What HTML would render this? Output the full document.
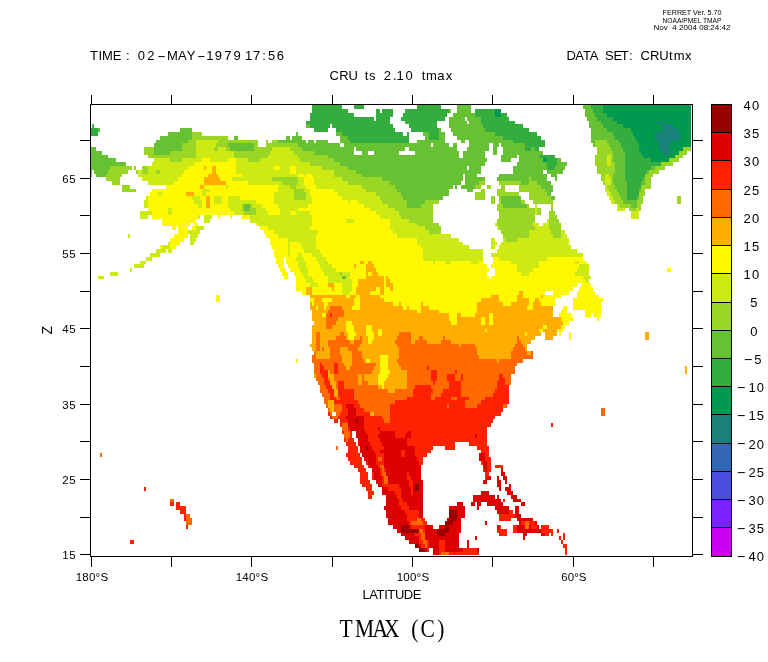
<!DOCTYPE html>
<html lang="en"><head><meta charset="utf-8"><title>TMAX (C)</title>
<style>
html,body{margin:0;padding:0;background:#fff;}
body{width:768px;height:662px;overflow:hidden;}
svg{display:block;}
text{font-family:"Liberation Sans",sans-serif;fill:#000;}
.s{font-family:"Liberation Serif",serif;}
</style></head><body>
<svg width="768" height="662" viewBox="0 0 768 662">
<rect width="768" height="662" fill="#fff"/>
<g shape-rendering="crispEdges" stroke="none">
<path fill="#1a807a" d="M657 121H663V124H657ZM663 124H673V128H663ZM663 128H677V132H663ZM655 132H681V136H655ZM655 136H681V140H655ZM659 140H673V143H659ZM659 143H669V147H659ZM659 147H669V151H659ZM663 151H669V155H663Z"/>
<path fill="#009950" d="M603 105H691V109H603ZM495 109H501V113H495ZM603 109H691V113H603ZM495 113H501V117H495ZM607 113H691V117H607ZM613 117H691V121H613ZM617 121H657V124H617ZM663 121H691V124H663ZM623 124H663V128H623ZM673 124H691V128H673ZM631 128H663V132H631ZM677 128H691V132H677ZM633 132H655V136H633ZM681 132H691V136H681ZM635 136H655V140H635ZM681 136H691V140H681ZM637 140H659V143H637ZM673 140H691V143H673ZM639 143H659V147H639ZM669 143H691V147H669ZM639 147H659V151H639ZM669 147H683V151H669ZM641 151H663V155H641ZM669 151H679V155H669ZM643 155H675V158H643ZM543 158H547V162H543ZM651 158H669V162H651Z"/>
<path fill="#33ad3d" d="M312 105H342V109H312ZM354 105H364V109H354ZM417 105H441V109H417ZM591 105H603V109H591ZM312 109H348V113H312ZM376 109H380V113H376ZM382 109H393V113H382ZM405 109H449V113H405ZM475 109H495V113H475ZM593 109H603V113H593ZM310 113H354V117H310ZM376 113H393V117H376ZM403 113H447V117H403ZM475 113H495V117H475ZM501 113H507V117H501ZM595 113H607V117H595ZM310 117H374V121H310ZM376 117H390V121H376ZM401 117H445V121H401ZM481 117H509V121H481ZM597 117H613V121H597ZM306 121H390V124H306ZM405 121H437V124H405ZM481 121H515V124H481ZM601 121H617V124H601ZM92 124H94V128H92ZM310 124H330V128H310ZM332 124H393V128H332ZM409 124H437V128H409ZM483 124H523V128H483ZM603 124H623V128H603ZM91 128H98V132H91ZM314 128H328V132H314ZM336 128H395V132H336ZM411 128H439V132H411ZM485 128H529V132H485ZM607 128H631V132H607ZM91 132H98V136H91ZM342 132H403V136H342ZM407 132H409V136H407ZM429 132H439V136H429ZM495 132H537V136H495ZM613 132H633V136H613ZM348 136H409V140H348ZM429 136H439V140H429ZM503 136H541V140H503ZM615 136H635V140H615ZM350 140H409V143H350ZM513 140H545V143H513ZM619 140H637V143H619ZM525 143H545V147H525ZM621 143H639V147H621ZM525 147H531V151H525ZM535 147H539V151H535ZM623 147H639V151H623ZM625 151H641V155H625ZM539 155H555V158H539ZM625 155H643V158H625ZM547 158H557V162H547ZM625 158H651V162H625ZM547 162H557V166H547ZM625 162H661V166H625ZM547 166H555V170H547ZM625 166H651V170H625ZM625 170H647V174H625ZM625 174H645V177H625ZM625 177H643V181H625ZM627 181H641V185H627ZM627 185H641V189H627ZM627 189H639V192H627ZM627 192H639V196H627ZM627 196H637V200H627Z"/>
<path fill="#66c233" d="M457 105H471V109H457ZM583 105H591V109H583ZM449 109H451V113H449ZM457 109H471V113H457ZM585 109H593V113H585ZM453 113H475V117H453ZM585 113H595V117H585ZM449 117H465V121H449ZM467 117H481V121H467ZM587 117H597V121H587ZM449 121H467V124H449ZM469 121H481V124H469ZM589 121H601V124H589ZM306 124H310V128H306ZM449 124H483V128H449ZM589 124H603V128H589ZM98 128H100V132H98ZM180 128H192V132H180ZM439 128H441V132H439ZM451 128H485V132H451ZM591 128H607V132H591ZM168 132H192V136H168ZM296 132H298V136H296ZM336 132H342V136H336ZM423 132H429V136H423ZM439 132H445V136H439ZM453 132H495V136H453ZM591 132H613V136H591ZM160 136H192V140H160ZM234 136H238V140H234ZM286 136H290V140H286ZM292 136H302V140H292ZM340 136H348V140H340ZM425 136H429V140H425ZM439 136H445V140H439ZM457 136H503V140H457ZM591 136H615V140H591ZM156 140H188V143H156ZM278 140H306V143H278ZM308 140H314V143H308ZM316 140H328V143H316ZM340 140H350V143H340ZM417 140H445V143H417ZM461 140H465V143H461ZM469 140H513V143H469ZM591 140H595V143H591ZM607 140H619V143H607ZM154 143H182V147H154ZM228 143H254V147H228ZM298 143H340V147H298ZM344 143H431V147H344ZM433 143H449V147H433ZM453 143H457V147H453ZM469 143H489V147H469ZM493 143H499V147H493ZM501 143H525V147H501ZM593 143H595V147H593ZM609 143H621V147H609ZM91 147H96V151H91ZM154 147H182V151H154ZM230 147H254V151H230ZM302 147H354V151H302ZM356 147H405V151H356ZM409 147H457V151H409ZM467 147H489V151H467ZM493 147H497V151H493ZM503 147H525V151H503ZM531 147H535V151H531ZM611 147H623V151H611ZM91 151H102V155H91ZM154 151H170V155H154ZM314 151H354V155H314ZM362 151H368V155H362ZM374 151H399V155H374ZM415 151H459V155H415ZM463 151H485V155H463ZM493 151H497V155H493ZM503 151H543V155H503ZM613 151H625V155H613ZM91 155H108V158H91ZM328 155H459V158H328ZM463 155H485V158H463ZM501 155H517V158H501ZM519 155H539V158H519ZM613 155H625V158H613ZM91 158H116V162H91ZM334 158H487V162H334ZM501 158H511V162H501ZM519 158H543V162H519ZM557 158H561V162H557ZM613 158H625V162H613ZM91 162H126V166H91ZM340 162H485V166H340ZM517 162H547V166H517ZM557 162H567V166H557ZM615 162H625V166H615ZM91 166H110V170H91ZM348 166H467V170H348ZM469 166H481V170H469ZM513 166H547V170H513ZM555 166H565V170H555ZM615 166H625V170H615ZM651 166H655V170H651ZM91 170H92V174H91ZM94 170H108V174H94ZM356 170H481V174H356ZM513 170H543V174H513ZM547 170H563V174H547ZM615 170H625V174H615ZM647 170H649V174H647ZM91 174H92V177H91ZM96 174H106V177H96ZM362 174H463V177H362ZM465 174H477V177H465ZM499 174H547V177H499ZM551 174H557V177H551ZM613 174H625V177H613ZM382 177H463V181H382ZM465 177H485V181H465ZM497 177H529V181H497ZM531 177H547V181H531ZM555 177H557V181H555ZM613 177H625V181H613ZM643 177H645V181H643ZM390 181H461V185H390ZM465 181H479V185H465ZM521 181H529V185H521ZM537 181H551V185H537ZM613 181H627V185H613ZM641 181H645V185H641ZM395 185H453V189H395ZM455 185H457V189H455ZM461 185H475V189H461ZM541 185H553V189H541ZM615 185H627V189H615ZM397 189H449V192H397ZM467 189H473V192H467ZM545 189H553V192H545ZM617 189H627V192H617ZM639 189H641V192H639ZM401 192H449V196H401ZM547 192H551V196H547ZM619 192H627V196H619ZM403 196H443V200H403ZM501 196H521V200H501ZM551 196H555V200H551ZM621 196H627V200H621ZM637 196H639V200H637ZM407 200H425V204H407ZM501 200H521V204H501ZM623 200H637V204H623ZM244 204H250V208H244ZM407 204H421V208H407ZM503 204H527V208H503ZM631 204H637V208H631ZM244 208H250V211H244ZM342 276H346V279H342Z"/>
<path fill="#99d625" d="M192 132H202V136H192ZM192 136H228V140H192ZM188 140H196V143H188ZM218 140H258V143H218ZM266 140H268V143H266ZM272 140H278V143H272ZM595 140H607V143H595ZM182 143H196V147H182ZM216 143H228V147H216ZM254 143H258V147H254ZM266 143H298V147H266ZM595 143H609V147H595ZM144 147H154V151H144ZM182 147H196V151H182ZM214 147H218V151H214ZM226 147H230V151H226ZM254 147H272V151H254ZM290 147H302V151H290ZM597 147H611V151H597ZM683 147H691V151H683ZM144 151H154V155H144ZM170 151H196V155H170ZM234 151H270V155H234ZM294 151H314V155H294ZM597 151H613V155H597ZM679 151H687V155H679ZM148 155H196V158H148ZM234 155H268V158H234ZM298 155H328V158H298ZM595 155H607V158H595ZM611 155H613V158H611ZM675 155H683V158H675ZM170 158H182V162H170ZM248 158H260V162H248ZM300 158H334V162H300ZM595 158H607V162H595ZM611 158H613V162H611ZM669 158H679V162H669ZM310 162H340V166H310ZM595 162H607V166H595ZM611 162H615V166H611ZM661 162H673V166H661ZM110 166H132V170H110ZM134 166H136V170H134ZM142 166H148V170H142ZM322 166H348V170H322ZM597 166H615V170H597ZM655 166H665V170H655ZM108 170H128V174H108ZM136 170H138V174H136ZM142 170H148V174H142ZM156 170H160V174H156ZM334 170H356V174H334ZM597 170H615V174H597ZM649 170H659V174H649ZM106 174H122V177H106ZM334 174H362V177H334ZM601 174H605V177H601ZM609 174H613V177H609ZM645 174H653V177H645ZM106 177H120V181H106ZM272 177H298V181H272ZM342 177H382V181H342ZM529 177H531V181H529ZM601 177H605V181H601ZM611 177H613V181H611ZM645 177H651V181H645ZM112 181H120V185H112ZM282 181H298V185H282ZM348 181H390V185H348ZM479 181H485V185H479ZM499 181H521V185H499ZM529 181H537V185H529ZM603 181H605V185H603ZM611 181H613V185H611ZM645 181H651V185H645ZM122 185H130V189H122ZM290 185H296V189H290ZM362 185H395V189H362ZM475 185H481V189H475ZM487 185H491V189H487ZM501 185H505V189H501ZM519 185H541V189H519ZM607 185H615V189H607ZM641 185H651V189H641ZM122 189H136V192H122ZM294 189H304V192H294ZM366 189H397V192H366ZM481 189H485V192H481ZM497 189H505V192H497ZM519 189H545V192H519ZM609 189H617V192H609ZM641 189H645V192H641ZM294 192H306V196H294ZM376 192H401V196H376ZM475 192H485V196H475ZM497 192H519V196H497ZM529 192H547V196H529ZM611 192H619V196H611ZM639 192H645V196H639ZM294 196H306V200H294ZM380 196H403V200H380ZM475 196H485V200H475ZM491 196H495V200H491ZM499 196H501V200H499ZM529 196H551V200H529ZM613 196H621V200H613ZM639 196H643V200H639ZM677 196H681V200H677ZM382 200H407V204H382ZM425 200H439V204H425ZM491 200H495V204H491ZM499 200H501V204H499ZM521 200H525V204H521ZM533 200H553V204H533ZM615 200H623V204H615ZM637 200H643V204H637ZM677 200H681V204H677ZM242 204H244V208H242ZM250 204H252V208H250ZM388 204H407V208H388ZM421 204H433V208H421ZM497 204H503V208H497ZM527 204H529V208H527ZM551 204H553V208H551ZM619 204H631V208H619ZM637 204H641V208H637ZM242 208H244V211H242ZM250 208H256V211H250ZM395 208H433V211H395ZM497 208H535V211H497ZM537 208H541V211H537ZM551 208H553V211H551ZM629 208H637V211H629ZM639 208H641V211H639ZM244 211H256V215H244ZM399 211H433V215H399ZM499 211H535V215H499ZM537 211H541V215H537ZM549 211H555V215H549ZM401 215H433V219H401ZM499 215H535V219H499ZM549 215H557V219H549ZM409 219H433V223H409ZM497 219H535V223H497ZM549 219H559V223H549ZM417 223H439V226H417ZM497 223H533V226H497ZM549 223H561V226H549ZM425 226H441V230H425ZM499 226H535V230H499ZM549 226H561V230H549ZM429 230H441V234H429ZM501 230H529V234H501ZM551 230H561V234H551ZM503 234H529V238H503ZM553 234H561V238H553ZM505 238H517V242H505ZM340 272H342V276H340Z"/>
<path fill="#cdea12" d="M196 140H218V143H196ZM196 143H216V147H196ZM196 147H214V151H196ZM218 147H226V151H218ZM272 147H290V151H272ZM196 151H234V155H196ZM270 151H294V155H270ZM196 155H234V158H196ZM268 155H298V158H268ZM607 155H611V158H607ZM154 158H170V162H154ZM182 158H202V162H182ZM210 158H228V162H210ZM236 158H248V162H236ZM260 158H300V162H260ZM607 158H611V162H607ZM152 162H194V166H152ZM236 162H310V166H236ZM607 162H611V166H607ZM148 166H188V170H148ZM236 166H274V170H236ZM280 166H290V170H280ZM296 166H322V170H296ZM138 170H142V174H138ZM148 170H156V174H148ZM160 170H184V174H160ZM236 170H290V174H236ZM296 170H334V174H296ZM138 174H182V177H138ZM242 174H298V177H242ZM304 174H306V177H304ZM312 174H334V177H312ZM605 174H609V177H605ZM142 177H178V181H142ZM232 177H272V181H232ZM298 177H304V181H298ZM314 177H342V181H314ZM605 177H611V181H605ZM148 181H174V185H148ZM248 181H282V185H248ZM298 181H304V185H298ZM314 181H348V185H314ZM605 181H611V185H605ZM226 185H228V189H226ZM278 185H290V189H278ZM296 185H306V189H296ZM316 185H362V189H316ZM605 185H607V189H605ZM202 189H210V192H202ZM278 189H294V192H278ZM304 189H310V192H304ZM334 189H366V192H334ZM605 189H609V192H605ZM158 192H162V196H158ZM202 192H206V196H202ZM274 192H294V196H274ZM306 192H310V196H306ZM338 192H376V196H338ZM607 192H611V196H607ZM146 196H148V200H146ZM192 196H200V200H192ZM214 196H222V200H214ZM228 196H240V200H228ZM274 196H294V200H274ZM306 196H312V200H306ZM342 196H380V200H342ZM609 196H613V200H609ZM144 200H148V204H144ZM194 200H202V204H194ZM214 200H222V204H214ZM228 200H256V204H228ZM274 200H312V204H274ZM348 200H350V204H348ZM358 200H382V204H358ZM611 200H615V204H611ZM144 204H148V208H144ZM198 204H202V208H198ZM228 204H242V208H228ZM252 204H262V208H252ZM278 204H308V208H278ZM364 204H388V208H364ZM535 204H537V208H535ZM617 204H619V208H617ZM168 208H172V211H168ZM230 208H242V211H230ZM256 208H266V211H256ZM280 208H298V211H280ZM370 208H395V211H370ZM535 208H537V211H535ZM617 208H625V211H617ZM637 208H639V211H637ZM140 211H152V215H140ZM168 211H172V215H168ZM234 211H244V215H234ZM256 211H268V215H256ZM280 211H290V215H280ZM296 211H310V215H296ZM376 211H399V215H376ZM535 211H537V215H535ZM631 211H639V215H631ZM140 215H148V219H140ZM198 215H200V219H198ZM204 215H212V219H204ZM250 215H312V219H250ZM380 215H401V219H380ZM631 215H639V219H631ZM204 219H210V223H204ZM250 219H312V223H250ZM346 219H354V223H346ZM390 219H409V223H390ZM547 219H549V223H547ZM258 223H312V226H258ZM390 223H417V226H390ZM495 223H497V226H495ZM533 223H539V226H533ZM543 223H549V226H543ZM196 226H204V230H196ZM268 226H310V230H268ZM390 226H425V230H390ZM497 226H499V230H497ZM535 226H549V230H535ZM188 230H200V234H188ZM274 230H318V234H274ZM393 230H429V234H393ZM529 230H551V234H529ZM561 230H565V234H561ZM128 234H130V238H128ZM190 234H198V238H190ZM278 234H316V238H278ZM397 234H451V238H397ZM529 234H553V238H529ZM561 234H567V238H561ZM190 238H196V242H190ZM288 238H316V242H288ZM417 238H459V242H417ZM491 238H495V242H491ZM503 238H505V242H503ZM517 238H569V242H517ZM168 242H170V245H168ZM190 242H194V245H190ZM288 242H290V245H288ZM300 242H316V245H300ZM417 242H463V245H417ZM491 242H497V245H491ZM501 242H569V245H501ZM162 245H170V249H162ZM288 245H290V249H288ZM302 245H316V249H302ZM421 245H469V249H421ZM491 245H495V249H491ZM499 245H571V249H499ZM156 249H166V253H156ZM168 249H172V253H168ZM288 249H290V253H288ZM304 249H320V253H304ZM423 249H483V253H423ZM497 249H577V253H497ZM150 253H160V257H150ZM288 253H290V257H288ZM298 253H302V257H298ZM312 253H322V257H312ZM423 253H483V257H423ZM491 253H583V257H491ZM146 257H152V261H146ZM296 257H304V261H296ZM316 257H326V261H316ZM423 257H483V261H423ZM499 257H547V261H499ZM140 261H146V264H140ZM298 261H306V264H298ZM318 261H328V264H318ZM433 261H435V264H433ZM445 261H451V264H445ZM471 261H479V264H471ZM511 261H539V264H511ZM575 261H579V264H575ZM134 264H144V268H134ZM298 264H306V268H298ZM320 264H332V268H320ZM517 264H539V268H517ZM579 264H589V268H579ZM130 268H132V272H130ZM300 268H308V272H300ZM322 268H336V272H322ZM517 268H533V272H517ZM577 268H589V272H577ZM110 272H118V276H110ZM302 272H308V276H302ZM324 272H340V276H324ZM342 272H350V276H342ZM521 272H529V276H521ZM575 272H589V276H575ZM98 276H104V279H98ZM304 276H312V279H304ZM328 276H342V279H328ZM346 276H350V279H346ZM583 276H591V279H583ZM306 279H314V283H306ZM328 279H352V283H328ZM585 279H589V283H585ZM310 283H318V287H310ZM342 283H352V287H342ZM342 287H352V291H342ZM342 291H350V295H342Z"/>
<path fill="#fff800" d="M202 158H210V162H202ZM228 158H236V162H228ZM194 162H236V166H194ZM188 166H204V170H188ZM206 166H212V170H206ZM216 166H236V170H216ZM274 166H280V170H274ZM290 166H296V170H290ZM184 170H212V174H184ZM216 170H236V174H216ZM290 170H296V174H290ZM182 174H208V177H182ZM218 174H242V177H218ZM298 174H304V177H298ZM306 174H312V177H306ZM178 177H204V181H178ZM220 177H232V181H220ZM304 177H314V181H304ZM174 181H204V185H174ZM226 181H248V185H226ZM304 181H314V185H304ZM166 185H200V189H166ZM204 185H226V189H204ZM228 185H278V189H228ZM306 185H316V189H306ZM152 189H202V192H152ZM210 189H278V192H210ZM310 189H334V192H310ZM150 192H158V196H150ZM162 192H186V196H162ZM194 192H202V196H194ZM206 192H274V196H206ZM310 192H338V196H310ZM148 196H192V200H148ZM200 196H206V200H200ZM210 196H214V200H210ZM222 196H228V200H222ZM240 196H274V200H240ZM312 196H342V200H312ZM148 200H194V204H148ZM202 200H206V204H202ZM210 200H214V204H210ZM222 200H228V204H222ZM256 200H274V204H256ZM312 200H348V204H312ZM350 200H358V204H350ZM148 204H198V208H148ZM202 204H206V208H202ZM210 204H228V208H210ZM262 204H278V208H262ZM308 204H364V208H308ZM148 208H168V211H148ZM172 208H230V211H172ZM266 208H280V211H266ZM298 208H370V211H298ZM152 211H168V215H152ZM172 211H234V215H172ZM268 211H280V215H268ZM290 211H296V215H290ZM310 211H376V215H310ZM152 215H198V219H152ZM218 215H220V219H218ZM230 215H232V219H230ZM242 215H250V219H242ZM312 215H380V219H312ZM162 219H196V223H162ZM312 219H346V223H312ZM354 219H390V223H354ZM162 223H190V226H162ZM194 223H198V226H194ZM256 223H258V226H256ZM312 223H390V226H312ZM172 226H176V230H172ZM178 226H188V230H178ZM192 226H196V230H192ZM260 226H268V230H260ZM310 226H390V230H310ZM178 230H188V234H178ZM264 230H274V234H264ZM318 230H393V234H318ZM174 234H188V238H174ZM266 234H278V238H266ZM316 234H397V238H316ZM170 238H184V242H170ZM270 238H288V242H270ZM316 238H417V242H316ZM170 242H180V245H170ZM270 242H288V245H270ZM290 242H300V245H290ZM316 242H417V245H316ZM160 245H162V249H160ZM170 245H176V249H170ZM272 245H288V249H272ZM290 245H302V249H290ZM316 245H421V249H316ZM274 249H288V253H274ZM290 249H304V253H290ZM320 249H423V253H320ZM274 253H288V257H274ZM290 253H298V257H290ZM302 253H312V257H302ZM322 253H423V257H322ZM276 257H284V261H276ZM286 257H296V261H286ZM304 257H316V261H304ZM326 257H423V261H326ZM493 257H499V261H493ZM547 257H583V261H547ZM276 261H284V264H276ZM286 261H298V264H286ZM306 261H318V264H306ZM328 261H360V264H328ZM364 261H368V264H364ZM372 261H433V264H372ZM435 261H445V264H435ZM451 261H471V264H451ZM479 261H483V264H479ZM493 261H511V264H493ZM539 261H575V264H539ZM579 261H587V264H579ZM278 264H284V268H278ZM288 264H298V268H288ZM306 264H320V268H306ZM332 264H354V268H332ZM356 264H366V268H356ZM374 264H487V268H374ZM491 264H517V268H491ZM539 264H579V268H539ZM280 268H286V272H280ZM290 268H300V272H290ZM308 268H322V272H308ZM336 268H366V272H336ZM376 268H489V272H376ZM495 268H517V272H495ZM533 268H577V272H533ZM667 268H671V272H667ZM282 272H288V276H282ZM294 272H302V276H294ZM308 272H324V276H308ZM350 272H366V276H350ZM368 272H372V276H368ZM378 272H487V276H378ZM495 272H521V276H495ZM529 272H575V276H529ZM284 276H288V279H284ZM296 276H304V279H296ZM312 276H328V279H312ZM350 276H366V279H350ZM384 276H386V279H384ZM388 276H489V279H388ZM491 276H583V279H491ZM296 279H306V283H296ZM314 279H328V283H314ZM352 279H358V283H352ZM384 279H386V283H384ZM390 279H585V283H390ZM296 283H310V287H296ZM318 283H328V287H318ZM334 283H342V287H334ZM352 283H358V287H352ZM384 283H386V287H384ZM393 283H577V287H393ZM581 283H591V287H581ZM296 287H306V291H296ZM312 287H332V291H312ZM334 287H342V291H334ZM352 287H356V291H352ZM376 287H380V291H376ZM384 287H390V291H384ZM393 287H573V291H393ZM579 287H593V291H579ZM302 291H306V295H302ZM312 291H342V295H312ZM350 291H356V295H350ZM370 291H380V295H370ZM384 291H519V295H384ZM523 291H545V295H523ZM553 291H569V295H553ZM577 291H595V295H577ZM216 295H220V298H216ZM346 295H350V298H346ZM356 295H360V298H356ZM380 295H491V298H380ZM499 295H517V298H499ZM523 295H541V298H523ZM543 295H561V298H543ZM577 295H599V298H577ZM216 298H220V302H216ZM310 298H314V302H310ZM322 298H332V302H322ZM354 298H360V302H354ZM384 298H481V302H384ZM499 298H517V302H499ZM529 298H535V302H529ZM539 298H555V302H539ZM573 298H603V302H573ZM312 302H314V306H312ZM324 302H328V306H324ZM354 302H360V306H354ZM393 302H399V306H393ZM401 302H421V306H401ZM423 302H477V306H423ZM503 302H511V306H503ZM529 302H533V306H529ZM541 302H555V306H541ZM573 302H601V306H573ZM316 306H318V310H316ZM324 306H326V310H324ZM352 306H360V310H352ZM403 306H407V310H403ZM409 306H421V310H409ZM429 306H477V310H429ZM527 306H533V310H527ZM563 306H567V310H563ZM573 306H601V310H573ZM417 310H421V313H417ZM439 310H477V313H439ZM561 310H567V313H561ZM585 310H601V313H585ZM322 313H326V317H322ZM449 313H457V317H449ZM461 313H475V317H461ZM489 313H493V317H489ZM559 313H571V317H559ZM585 313H591V317H585ZM593 313H601V317H593ZM449 317H457V321H449ZM481 317H485V321H481ZM489 317H493V321H489ZM561 317H573V321H561ZM597 317H599V321H597ZM346 321H352V325H346ZM451 321H457V325H451ZM481 321H485V325H481ZM489 321H493V325H489ZM563 321H569V325H563ZM346 325H354V329H346ZM366 325H372V329H366ZM543 325H547V329H543ZM561 325H565V329H561ZM346 329H354V332H346ZM366 329H372V332H366ZM378 329H382V332H378ZM485 329H487V332H485ZM539 329H543V332H539ZM557 329H563V332H557ZM348 332H356V336H348ZM366 332H374V336H366ZM378 332H382V336H378ZM525 332H527V336H525ZM559 332H561V336H559ZM569 332H571V336H569ZM348 336H354V340H348ZM368 336H374V340H368ZM569 336H571V340H569ZM368 340H372V344H368ZM380 355H388V359H380ZM296 359H298V363H296ZM366 359H370V363H366ZM380 359H388V363H380ZM380 363H388V366H380ZM380 366H388V370H380ZM380 370H390V374H380ZM378 374H388V378H378ZM378 378H386V381H378ZM378 381H384V385H378ZM382 385H384V389H382Z"/>
<path fill="#ffad00" d="M204 166H206V170H204ZM212 166H216V170H212ZM212 170H216V174H212ZM208 174H218V177H208ZM204 177H220V181H204ZM204 181H226V185H204ZM200 185H204V189H200ZM186 192H194V196H186ZM206 196H210V200H206ZM206 200H210V204H206ZM206 204H210V208H206ZM360 261H364V264H360ZM368 261H372V264H368ZM354 264H356V268H354ZM366 264H374V268H366ZM366 268H376V272H366ZM366 272H368V276H366ZM372 272H378V276H372ZM366 276H384V279H366ZM386 276H388V279H386ZM358 279H384V283H358ZM386 279H390V283H386ZM328 283H334V287H328ZM358 283H384V287H358ZM386 283H393V287H386ZM306 287H312V291H306ZM332 287H334V291H332ZM356 287H376V291H356ZM380 287H384V291H380ZM390 287H393V291H390ZM306 291H312V295H306ZM356 291H370V295H356ZM380 291H384V295H380ZM519 291H523V295H519ZM310 295H346V298H310ZM350 295H356V298H350ZM360 295H380V298H360ZM491 295H499V298H491ZM517 295H523V298H517ZM541 295H543V298H541ZM314 298H322V302H314ZM332 298H354V302H332ZM360 298H384V302H360ZM481 298H499V302H481ZM517 298H529V302H517ZM535 298H539V302H535ZM310 302H312V306H310ZM314 302H324V306H314ZM328 302H354V306H328ZM360 302H393V306H360ZM399 302H401V306H399ZM421 302H423V306H421ZM477 302H503V306H477ZM511 302H529V306H511ZM533 302H541V306H533ZM310 306H316V310H310ZM318 306H324V310H318ZM326 306H330V310H326ZM342 306H352V310H342ZM360 306H403V310H360ZM407 306H409V310H407ZM421 306H429V310H421ZM477 306H527V310H477ZM533 306H553V310H533ZM312 310H328V313H312ZM344 310H417V313H344ZM421 310H439V313H421ZM477 310H553V313H477ZM312 313H322V317H312ZM344 313H449V317H344ZM457 313H461V317H457ZM475 313H489V317H475ZM493 313H553V317H493ZM312 317H326V321H312ZM338 317H449V321H338ZM457 317H481V321H457ZM485 317H489V321H485ZM493 317H561V321H493ZM314 321H326V325H314ZM336 321H346V325H336ZM352 321H451V325H352ZM457 321H481V325H457ZM485 321H489V325H485ZM493 321H563V325H493ZM312 325H326V329H312ZM332 325H346V329H332ZM354 325H366V329H354ZM372 325H543V329H372ZM547 325H561V329H547ZM312 329H346V332H312ZM354 329H366V332H354ZM372 329H378V332H372ZM382 329H485V332H382ZM487 329H539V332H487ZM543 329H557V332H543ZM312 332H316V336H312ZM320 332H340V336H320ZM344 332H348V336H344ZM356 332H366V336H356ZM374 332H378V336H374ZM382 332H399V336H382ZM411 332H525V336H411ZM527 332H541V336H527ZM545 332H557V336H545ZM645 332H649V336H645ZM312 336H316V340H312ZM320 336H336V340H320ZM346 336H348V340H346ZM354 336H360V340H354ZM362 336H368V340H362ZM374 336H397V340H374ZM411 336H419V340H411ZM423 336H443V340H423ZM445 336H517V340H445ZM519 336H535V340H519ZM545 336H553V340H545ZM645 336H649V340H645ZM312 340H316V344H312ZM320 340H328V344H320ZM350 340H354V344H350ZM362 340H368V344H362ZM372 340H395V344H372ZM411 340H415V344H411ZM427 340H441V344H427ZM451 340H517V344H451ZM521 340H531V344H521ZM310 344H316V347H310ZM320 344H328V347H320ZM360 344H397V347H360ZM459 344H461V347H459ZM475 344H515V347H475ZM523 344H527V347H523ZM312 347H316V351H312ZM320 347H322V351H320ZM324 347H330V351H324ZM340 347H348V351H340ZM358 347H399V351H358ZM477 347H513V351H477ZM525 347H527V351H525ZM316 351H330V355H316ZM340 351H352V355H340ZM362 351H399V355H362ZM477 351H511V355H477ZM527 351H531V355H527ZM316 355H330V359H316ZM342 355H352V359H342ZM362 355H380V359H362ZM388 355H399V359H388ZM479 355H511V359H479ZM342 359H352V363H342ZM364 359H366V363H364ZM370 359H380V363H370ZM388 359H397V363H388ZM497 359H499V363H497ZM344 363H352V366H344ZM376 363H380V366H376ZM388 363H399V366H388ZM346 366H350V370H346ZM374 366H380V370H374ZM388 366H401V370H388ZM685 366H687V370H685ZM328 370H330V374H328ZM372 370H380V374H372ZM390 370H407V374H390ZM685 370H687V374H685ZM314 374H316V378H314ZM328 374H334V378H328ZM358 374H362V378H358ZM364 374H378V378H364ZM388 374H407V378H388ZM330 378H334V381H330ZM358 378H362V381H358ZM364 378H378V381H364ZM386 378H407V381H386ZM330 381H336V385H330ZM358 381H362V385H358ZM368 381H378V385H368ZM384 381H407V385H384ZM332 385H336V389H332ZM378 385H382V389H378ZM384 385H407V389H384ZM334 389H338V393H334ZM388 389H395V393H388ZM334 393H338V397H334ZM328 400H334V404H328ZM328 404H334V408H328ZM330 408H334V412H330ZM370 412H374V416H370Z"/>
<path fill="#ff6a00" d="M330 306H342V310H330ZM328 310H344V313H328ZM326 313H330V317H326ZM332 313H344V317H332ZM326 317H338V321H326ZM326 321H336V325H326ZM326 325H332V329H326ZM316 332H320V336H316ZM340 332H344V336H340ZM399 332H411V336H399ZM316 336H320V340H316ZM336 336H346V340H336ZM360 336H362V340H360ZM397 336H411V340H397ZM419 336H423V340H419ZM443 336H445V340H443ZM517 336H519V340H517ZM316 340H320V344H316ZM328 340H350V344H328ZM354 340H362V344H354ZM395 340H411V344H395ZM415 340H427V344H415ZM441 340H451V344H441ZM517 340H521V344H517ZM316 344H320V347H316ZM328 344H360V347H328ZM397 344H459V347H397ZM461 344H475V347H461ZM515 344H523V347H515ZM316 347H320V351H316ZM322 347H324V351H322ZM330 347H340V351H330ZM348 347H358V351H348ZM399 347H477V351H399ZM513 347H525V351H513ZM314 351H316V355H314ZM330 351H340V355H330ZM352 351H362V355H352ZM399 351H477V355H399ZM511 351H527V355H511ZM531 351H533V355H531ZM312 355H316V359H312ZM330 355H342V359H330ZM352 355H362V359H352ZM399 355H479V359H399ZM511 355H533V359H511ZM312 359H342V363H312ZM352 359H364V363H352ZM397 359H497V363H397ZM499 359H523V363H499ZM314 363H320V366H314ZM322 363H334V366H322ZM338 363H344V366H338ZM352 363H376V366H352ZM399 363H517V366H399ZM314 366H320V370H314ZM324 366H334V370H324ZM338 366H346V370H338ZM350 366H374V370H350ZM401 366H427V370H401ZM429 366H515V370H429ZM314 370H320V374H314ZM330 370H334V374H330ZM338 370H372V374H338ZM407 370H431V374H407ZM437 370H455V374H437ZM457 370H515V374H457ZM316 374H322V378H316ZM334 374H358V378H334ZM362 374H364V378H362ZM407 374H431V378H407ZM437 374H447V378H437ZM455 374H461V378H455ZM463 374H499V378H463ZM503 374H511V378H503ZM316 378H324V381H316ZM328 378H330V381H328ZM334 378H358V381H334ZM362 378H364V381H362ZM407 378H431V381H407ZM437 378H447V381H437ZM455 378H461V381H455ZM463 378H499V381H463ZM505 378H511V381H505ZM318 381H324V385H318ZM336 381H338V385H336ZM344 381H358V385H344ZM362 381H368V385H362ZM407 381H433V385H407ZM435 381H449V385H435ZM461 381H497V385H461ZM505 381H511V385H505ZM320 385H326V389H320ZM336 385H338V389H336ZM344 385H378V389H344ZM407 385H415V389H407ZM431 385H449V389H431ZM461 385H497V389H461ZM320 389H328V393H320ZM354 389H388V393H354ZM395 389H413V393H395ZM433 389H443V393H433ZM461 389H495V393H461ZM322 393H330V397H322ZM354 393H413V397H354ZM431 393H441V397H431ZM461 393H493V397H461ZM324 397H330V400H324ZM336 397H340V400H336ZM354 397H407V400H354ZM431 397H435V400H431ZM451 397H457V400H451ZM469 397H485V400H469ZM324 400H328V404H324ZM358 400H395V404H358ZM465 400H481V404H465ZM326 404H328V408H326ZM334 404H342V408H334ZM360 404H390V408H360ZM447 404H449V408H447ZM465 404H477V408H465ZM503 404H507V408H503ZM328 408H330V412H328ZM334 408H342V412H334ZM364 408H390V412H364ZM601 408H605V412H601ZM330 412H332V416H330ZM336 412H340V416H336ZM374 412H390V416H374ZM601 412H605V416H601ZM332 416H338V419H332ZM382 416H390V419H382ZM384 419H390V423H384ZM342 423H348V427H342ZM342 427H348V431H342ZM344 431H350V434H344ZM344 434H350V438H344ZM346 438H348V442H346ZM336 446H338V450H336ZM100 453H102V457H100ZM378 457H382V461H378ZM380 465H384V468H380ZM382 468H384V472H382ZM382 472H386V476H382ZM384 476H388V480H384ZM384 480H388V484H384ZM170 499H174V502H170ZM186 514H190V518H186ZM186 518H192V521H186ZM417 518H421V521H417ZM186 521H192V525H186ZM411 521H423V525H411ZM525 521H529V525H525ZM525 525H529V529H525ZM419 529H423V533H419ZM421 533H425V536H421ZM421 536H425V540H421ZM423 540H427V544H423ZM425 544H427V548H425ZM441 552H449V555H441Z"/>
<path fill="#ff2200" d="M330 313H332V317H330ZM320 363H322V366H320ZM334 363H338V366H334ZM320 366H324V370H320ZM334 366H338V370H334ZM427 366H429V370H427ZM320 370H328V374H320ZM334 370H338V374H334ZM431 370H437V374H431ZM455 370H457V374H455ZM322 374H328V378H322ZM431 374H437V378H431ZM447 374H455V378H447ZM461 374H463V378H461ZM499 374H503V378H499ZM324 378H328V381H324ZM431 378H437V381H431ZM447 378H455V381H447ZM461 378H463V381H461ZM499 378H505V381H499ZM324 381H330V385H324ZM338 381H344V385H338ZM433 381H435V385H433ZM449 381H461V385H449ZM497 381H505V385H497ZM326 385H332V389H326ZM338 385H344V389H338ZM415 385H431V389H415ZM449 385H461V389H449ZM497 385H509V389H497ZM328 389H334V393H328ZM338 389H354V393H338ZM413 389H433V393H413ZM443 389H461V393H443ZM495 389H509V393H495ZM330 393H334V397H330ZM338 393H354V397H338ZM413 393H431V397H413ZM441 393H461V397H441ZM493 393H509V397H493ZM330 397H336V400H330ZM340 397H354V400H340ZM407 397H431V400H407ZM435 397H451V400H435ZM457 397H469V400H457ZM485 397H509V400H485ZM334 400H358V404H334ZM395 400H465V404H395ZM481 400H509V404H481ZM342 404H346V408H342ZM354 404H360V408H354ZM390 404H447V408H390ZM449 404H465V408H449ZM477 404H503V408H477ZM342 408H348V412H342ZM356 408H364V412H356ZM390 408H503V412H390ZM328 412H330V416H328ZM340 412H348V416H340ZM356 412H370V416H356ZM390 412H501V416H390ZM330 416H332V419H330ZM338 416H346V419H338ZM364 416H382V419H364ZM390 416H495V419H390ZM334 419H338V423H334ZM340 419H348V423H340ZM364 419H384V423H364ZM390 419H493V423H390ZM340 423H342V427H340ZM364 423H491V427H364ZM551 423H553V427H551ZM348 427H350V431H348ZM364 427H378V431H364ZM380 427H487V431H380ZM342 431H344V434H342ZM350 431H352V434H350ZM366 431H380V434H366ZM395 431H407V434H395ZM411 431H487V434H411ZM350 434H352V438H350ZM368 434H378V438H368ZM395 434H405V438H395ZM411 434H475V438H411ZM477 434H487V438H477ZM344 438H346V442H344ZM348 438H354V442H348ZM368 438H380V442H368ZM407 438H487V442H407ZM346 442H356V446H346ZM370 442H382V446H370ZM407 442H455V446H407ZM469 442H487V446H469ZM348 446H358V450H348ZM372 446H384V450H372ZM415 446H433V450H415ZM445 446H455V450H445ZM477 446H489V450H477ZM348 450H358V453H348ZM374 450H380V453H374ZM401 450H405V453H401ZM415 450H431V453H415ZM481 450H489V453H481ZM346 453H360V457H346ZM376 453H384V457H376ZM401 453H405V457H401ZM415 453H427V457H415ZM485 453H489V457H485ZM348 457H362V461H348ZM376 457H378V461H376ZM382 457H384V461H382ZM417 457H423V461H417ZM485 457H491V461H485ZM350 461H362V465H350ZM366 461H368V465H366ZM376 461H384V465H376ZM419 461H423V465H419ZM481 461H483V465H481ZM487 461H491V465H487ZM354 465H364V468H354ZM368 465H370V468H368ZM378 465H380V468H378ZM487 465H491V468H487ZM495 465H503V468H495ZM358 468H366V472H358ZM380 468H382V472H380ZM384 468H386V472H384ZM483 468H485V472H483ZM487 468H491V472H487ZM360 472H368V476H360ZM372 472H374V476H372ZM380 472H382V476H380ZM407 472H409V476H407ZM485 472H489V476H485ZM360 476H368V480H360ZM372 476H374V480H372ZM382 476H384V480H382ZM407 476H411V480H407ZM485 476H487V480H485ZM360 480H370V484H360ZM382 480H384V484H382ZM409 480H413V484H409ZM362 484H372V487H362ZM382 484H399V487H382ZM409 484H413V487H409ZM144 487H146V491H144ZM366 487H372V491H366ZM388 487H401V491H388ZM411 487H413V491H411ZM368 491H374V495H368ZM395 491H401V495H395ZM411 491H413V495H411ZM368 495H372V499H368ZM397 495H401V499H397ZM399 499H403V502H399ZM503 499H505V502H503ZM170 502H174V506H170ZM176 502H180V506H176ZM399 502H407V506H399ZM176 506H186V510H176ZM401 506H409V510H401ZM180 510H186V514H180ZM405 510H419V514H405ZM509 510H513V514H509ZM184 514H186V518H184ZM407 514H419V518H407ZM499 514H515V518H499ZM184 518H186V521H184ZM407 518H417V521H407ZM421 518H425V521H421ZM499 518H511V521H499ZM409 521H411V525H409ZM423 521H427V525H423ZM521 521H525V525H521ZM529 521H535V525H529ZM186 525H188V529H186ZM411 525H425V529H411ZM499 525H501V529H499ZM513 525H517V529H513ZM531 525H537V529H531ZM541 525H549V529H541ZM423 529H425V533H423ZM497 529H507V533H497ZM513 529H517V533H513ZM541 529H553V533H541ZM557 529H559V533H557ZM415 533H421V536H415ZM499 533H507V536H499ZM545 533H549V536H545ZM551 533H553V536H551ZM563 533H565V536H563ZM419 536H421V540H419ZM559 536H561V540H559ZM563 536H565V540H563ZM130 540H134V544H130ZM419 540H423V544H419ZM427 540H429V544H427ZM439 540H445V544H439ZM561 540H563V544H561ZM421 544H425V548H421ZM427 544H429V548H427ZM439 544H445V548H439ZM563 544H567V548H563ZM427 548H429V552H427ZM439 548H445V552H439ZM463 548H477V552H463ZM565 548H567V552H565ZM439 552H441V555H439ZM449 552H479V555H449ZM565 552H567V555H565Z"/>
<path fill="#dd0000" d="M346 404H354V408H346ZM348 408H356V412H348ZM348 412H356V416H348ZM346 416H364V419H346ZM348 419H356V423H348ZM358 419H364V423H358ZM348 423H364V427H348ZM350 427H364V431H350ZM378 427H380V431H378ZM356 431H366V434H356ZM380 431H395V434H380ZM407 431H411V434H407ZM356 434H368V438H356ZM378 434H395V438H378ZM405 434H411V438H405ZM475 434H477V438H475ZM358 438H368V442H358ZM380 438H407V442H380ZM358 442H370V446H358ZM382 442H407V446H382ZM360 446H366V450H360ZM368 446H372V450H368ZM384 446H415V450H384ZM360 450H374V453H360ZM380 450H401V453H380ZM405 450H415V453H405ZM362 453H376V457H362ZM384 453H401V457H384ZM405 453H415V457H405ZM479 453H485V457H479ZM364 457H376V461H364ZM384 457H417V461H384ZM479 457H485V461H479ZM368 461H376V465H368ZM384 461H419V465H384ZM483 461H487V465H483ZM370 465H378V468H370ZM384 465H421V468H384ZM483 465H487V468H483ZM372 468H380V472H372ZM386 468H421V472H386ZM485 468H487V472H485ZM501 468H503V472H501ZM374 472H380V476H374ZM386 472H407V476H386ZM409 472H421V476H409ZM501 472H505V476H501ZM374 476H382V480H374ZM388 476H407V480H388ZM411 476H421V480H411ZM487 476H491V480H487ZM497 476H499V480H497ZM503 476H507V480H503ZM376 480H382V484H376ZM388 480H409V484H388ZM413 480H423V484H413ZM483 480H487V484H483ZM497 480H501V484H497ZM505 480H507V484H505ZM378 484H382V487H378ZM399 484H409V487H399ZM413 484H415V487H413ZM419 484H423V487H419ZM497 484H501V487H497ZM509 484H511V487H509ZM382 487H388V491H382ZM401 487H411V491H401ZM413 487H415V491H413ZM419 487H423V491H419ZM499 487H501V491H499ZM505 487H511V491H505ZM382 491H395V495H382ZM401 491H411V495H401ZM413 491H423V495H413ZM481 491H489V495H481ZM507 491H513V495H507ZM386 495H397V499H386ZM401 495H423V499H401ZM473 495H495V499H473ZM497 495H499V499H497ZM511 495H517V499H511ZM386 499H399V502H386ZM403 499H423V502H403ZM473 499H501V502H473ZM513 499H521V502H513ZM386 502H399V506H386ZM407 502H423V506H407ZM457 502H463V506H457ZM471 502H475V506H471ZM477 502H481V506H477ZM487 502H503V506H487ZM521 502H525V506H521ZM384 506H401V510H384ZM409 506H423V510H409ZM449 506H465V510H449ZM477 506H479V510H477ZM495 506H509V510H495ZM515 506H519V510H515ZM386 510H405V514H386ZM419 510H423V514H419ZM457 510H465V514H457ZM497 510H509V514H497ZM515 510H519V514H515ZM386 514H407V518H386ZM419 514H423V518H419ZM457 514H465V518H457ZM515 514H521V518H515ZM388 518H407V521H388ZM447 518H449V521H447ZM457 518H461V521H457ZM517 518H533V521H517ZM388 521H409V525H388ZM453 521H461V525H453ZM485 521H487V525H485ZM519 521H521V525H519ZM535 521H537V525H535ZM393 525H401V529H393ZM409 525H411V529H409ZM425 525H433V529H425ZM439 525H445V529H439ZM449 525H461V529H449ZM497 525H499V529H497ZM517 525H525V529H517ZM529 525H531V529H529ZM537 525H539V529H537ZM397 529H401V533H397ZM425 529H437V533H425ZM449 529H461V533H449ZM517 529H541V533H517ZM401 533H415V536H401ZM425 533H437V536H425ZM445 533H459V536H445ZM523 533H527V536H523ZM541 533H545V536H541ZM405 536H419V540H405ZM425 536H459V540H425ZM475 536H477V540H475ZM523 536H525V540H523ZM409 540H419V544H409ZM429 540H439V544H429ZM445 540H459V544H445ZM467 540H469V544H467ZM419 544H421V548H419ZM429 544H439V548H429ZM445 544H459V548H445ZM467 544H469V548H467ZM425 548H427V552H425ZM433 548H439V552H433ZM445 548H463V552H445ZM477 548H479V552H477ZM433 552H439V555H433Z"/>
<path fill="#990000" d="M356 419H358V423H356ZM366 446H368V450H366ZM415 484H419V487H415ZM415 487H419V491H415ZM449 510H457V514H449ZM449 514H457V518H449ZM449 518H457V521H449ZM445 521H453V525H445ZM401 525H409V529H401ZM445 525H449V529H445ZM401 529H419V533H401ZM437 529H449V533H437ZM437 533H445V536H437ZM415 544H419V548H415ZM419 548H425V552H419Z"/>
</g>
<g stroke="#000" stroke-width="1" fill="none" shape-rendering="crispEdges">
<rect x="90.5" y="104.5" width="602.0" height="452.0"/>
<path d="M91.5 95V104.5M91.5 556.5V567M171.5 95V104.5M171.5 556.5V567M251.5 95V104.5M251.5 556.5V567M332.5 95V104.5M332.5 556.5V567M412.5 95V104.5M412.5 556.5V567M492.5 95V104.5M492.5 556.5V567M573.5 95V104.5M573.5 556.5V567M653.5 95V104.5M653.5 556.5V567M80 554.5H90.5M692.5 554.5H703M80 517.5H90.5M692.5 517.5H703M80 479.5H90.5M692.5 479.5H703M80 441.5H90.5M692.5 441.5H703M80 404.5H90.5M692.5 404.5H703M80 366.5H90.5M692.5 366.5H703M80 328.5H90.5M692.5 328.5H703M80 291.5H90.5M692.5 291.5H703M80 253.5H90.5M692.5 253.5H703M80 215.5H90.5M692.5 215.5H703M80 178.5H90.5M692.5 178.5H703M80 140.5H90.5M692.5 140.5H703"/>
</g>
<g shape-rendering="crispEdges">
<rect x="711.5" y="104.50" width="20" height="28.52" fill="#990000"/>
<rect x="711.5" y="132.72" width="20" height="28.52" fill="#dd0000"/>
<rect x="711.5" y="160.94" width="20" height="28.52" fill="#ff2200"/>
<rect x="711.5" y="189.16" width="20" height="28.52" fill="#ff6a00"/>
<rect x="711.5" y="217.38" width="20" height="28.52" fill="#ffad00"/>
<rect x="711.5" y="245.59" width="20" height="28.52" fill="#fff800"/>
<rect x="711.5" y="273.81" width="20" height="28.52" fill="#cdea12"/>
<rect x="711.5" y="302.03" width="20" height="28.52" fill="#99d625"/>
<rect x="711.5" y="330.25" width="20" height="28.52" fill="#66c233"/>
<rect x="711.5" y="358.47" width="20" height="28.52" fill="#33ad3d"/>
<rect x="711.5" y="386.69" width="20" height="28.52" fill="#009950"/>
<rect x="711.5" y="414.91" width="20" height="28.52" fill="#1a807a"/>
<rect x="711.5" y="443.12" width="20" height="28.52" fill="#3366b3"/>
<rect x="711.5" y="471.34" width="20" height="28.52" fill="#4d4de0"/>
<rect x="711.5" y="499.56" width="20" height="28.52" fill="#7722ff"/>
<rect x="711.5" y="527.78" width="20" height="28.52" fill="#cc00f0"/>
<path d="M711.5 132.5H731.5M711.5 160.5H731.5M711.5 189.5H731.5M711.5 217.5H731.5M711.5 245.5H731.5M711.5 273.5H731.5M711.5 302.5H731.5M711.5 330.5H731.5M711.5 358.5H731.5M711.5 386.5H731.5M711.5 414.5H731.5M711.5 443.5H731.5M711.5 471.5H731.5M711.5 499.5H731.5M711.5 527.5H731.5" stroke="#000" fill="none"/>
<rect x="711.5" y="104.5" width="20" height="451.5" fill="none" stroke="#000"/>
</g>
<g font-size="13px">
<text x="743.6" y="109.9" textLength="15.6" lengthAdjust="spacing">40</text>
<text x="743.6" y="138.1" textLength="15.6" lengthAdjust="spacing">35</text>
<text x="743.6" y="166.3" textLength="15.6" lengthAdjust="spacing">30</text>
<text x="743.6" y="194.6" textLength="15.6" lengthAdjust="spacing">25</text>
<text x="743.6" y="222.8" textLength="15.6" lengthAdjust="spacing">20</text>
<text x="743.6" y="251.0" textLength="15.6" lengthAdjust="spacing">15</text>
<text x="743.6" y="279.2" textLength="15.6" lengthAdjust="spacing">10</text>
<text x="750.2" y="307.4">5</text>
<text x="750.2" y="335.6">0</text>
<text y="363.9"><tspan x="743.4" dy="-1.2" textLength="9.6" lengthAdjust="spacingAndGlyphs">-</tspan><tspan x="754.2" dy="1.2">5</tspan></text>
<text y="392.1"><tspan x="736.6" dy="-1.2" textLength="9.6" lengthAdjust="spacingAndGlyphs">-</tspan><tspan x="748.4" dy="1.2" textLength="15.6" lengthAdjust="spacing">10</tspan></text>
<text y="420.3"><tspan x="736.6" dy="-1.2" textLength="9.6" lengthAdjust="spacingAndGlyphs">-</tspan><tspan x="748.4" dy="1.2" textLength="15.6" lengthAdjust="spacing">15</tspan></text>
<text y="448.5"><tspan x="736.6" dy="-1.2" textLength="9.6" lengthAdjust="spacingAndGlyphs">-</tspan><tspan x="748.4" dy="1.2" textLength="15.6" lengthAdjust="spacing">20</tspan></text>
<text y="476.7"><tspan x="736.6" dy="-1.2" textLength="9.6" lengthAdjust="spacingAndGlyphs">-</tspan><tspan x="748.4" dy="1.2" textLength="15.6" lengthAdjust="spacing">25</tspan></text>
<text y="505.0"><tspan x="736.6" dy="-1.2" textLength="9.6" lengthAdjust="spacingAndGlyphs">-</tspan><tspan x="748.4" dy="1.2" textLength="15.6" lengthAdjust="spacing">30</tspan></text>
<text y="533.2"><tspan x="736.6" dy="-1.2" textLength="9.6" lengthAdjust="spacingAndGlyphs">-</tspan><tspan x="748.4" dy="1.2" textLength="15.6" lengthAdjust="spacing">35</tspan></text>
<text y="561.4"><tspan x="736.6" dy="-1.2" textLength="9.6" lengthAdjust="spacingAndGlyphs">-</tspan><tspan x="748.4" dy="1.2" textLength="15.6" lengthAdjust="spacing">40</tspan></text>
</g>
<text x="94.0 100.4 107.3 117.2 122.6 127.9 134.7 141.4 150.8 161.5 172.3 182.3 191.2 201.3 209.8 218.4 227.8 237.0 242.8 248.6 256.5 264.1 271.5 280.3" y="60" font-size="13px" text-anchor="middle" xml:space="preserve">TIME : 02<tspan textLength="8.6" lengthAdjust="spacingAndGlyphs">-</tspan>MAY<tspan textLength="8.6" lengthAdjust="spacingAndGlyphs">-</tspan>1979 17:56</text>
<text x="571.1 579.6 587.0 594.2 601.8 609.4 617.9 624.7 630.9 638.0 645.2 654.8 663.9 670.9 679.2 688.2" y="60" font-size="13px" text-anchor="middle" xml:space="preserve">DATA SET: CRUtmx</text>
<text x="334.1 344.0 353.2 359.9 366.6 372.3 379.9 387.4 394.8 400.0 409.1 416.4 423.6 431.5 440.8 449.1" y="80" font-size="13px" text-anchor="middle" xml:space="preserve">CRU ts 2.10 tmax</text>
<g font-size="7px" text-anchor="middle">
<text x="692" y="15" textLength="59" lengthAdjust="spacingAndGlyphs">FERRET Ver. 5.70</text>
<text x="692" y="22.6" textLength="59" lengthAdjust="spacingAndGlyphs">NOAA/PMEL TMAP</text>
<text x="692" y="30" textLength="77" lengthAdjust="spacingAndGlyphs" xml:space="preserve">Nov  4 2004 08:24:42</text>
</g>
<g font-size="11.5px" text-anchor="end">
<text x="75.6" y="558.8" textLength="13.4" lengthAdjust="spacing">15</text>
<text x="75.6" y="483.8" textLength="13.4" lengthAdjust="spacing">25</text>
<text x="75.6" y="408.8" textLength="13.4" lengthAdjust="spacing">35</text>
<text x="75.6" y="332.8" textLength="13.4" lengthAdjust="spacing">45</text>
<text x="75.6" y="257.8" textLength="13.4" lengthAdjust="spacing">55</text>
<text x="75.6" y="182.8" textLength="13.4" lengthAdjust="spacing">65</text>
</g>
<g font-size="11.5px" text-anchor="middle">
<text x="91.9" y="581" textLength="32.4" lengthAdjust="spacing">180°S</text>
<text x="251.9" y="581" textLength="32.4" lengthAdjust="spacing">140°S</text>
<text x="412.9" y="581" textLength="32.4" lengthAdjust="spacing">100°S</text>
<text x="573.9" y="581" textLength="25.2" lengthAdjust="spacing">60°S</text>
</g>
<text x="392" y="599.2" font-size="13px" text-anchor="middle" textLength="59" lengthAdjust="spacing">LATITUDE</text>
<text class="s" transform="scale(0.86 1)" x="402.3 423.8 442.1 455.6 469.0 482.3 497.4 512.6" y="636.6" font-size="25px" text-anchor="middle" xml:space="preserve">TMAX (C)</text>
<text x="0" y="0" font-size="14px" text-anchor="middle" transform="translate(52.4 330.3) rotate(-90)">Z</text>
</svg>
</body></html>
